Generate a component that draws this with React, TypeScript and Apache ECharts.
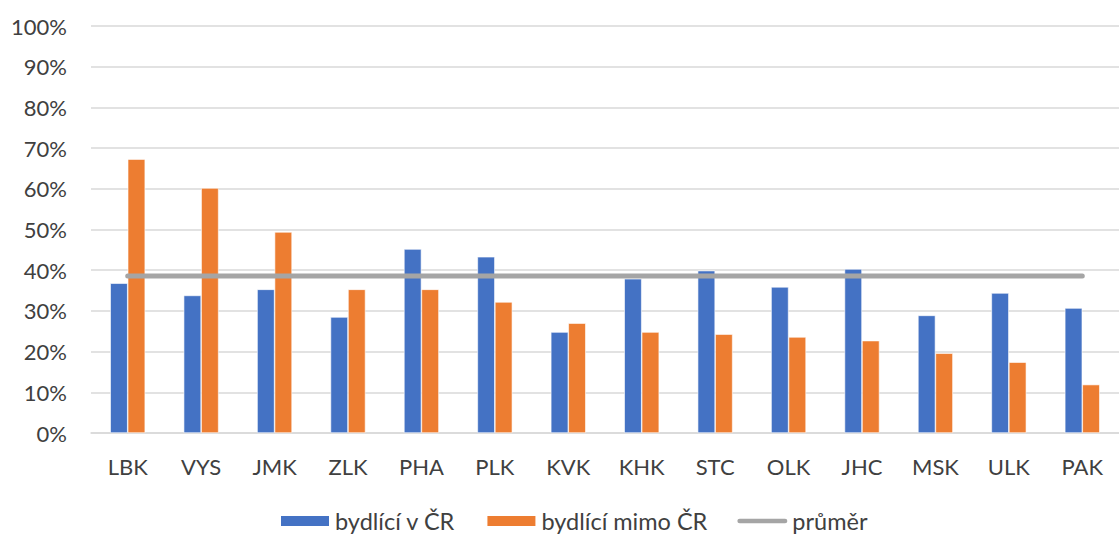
import React, { useEffect, useRef } from "react";
import * as echarts from "echarts";

const categories = ["LBK", "VYS", "JMK", "ZLK", "PHA", "PLK", "KVK", "KHK", "STC", "OLK", "JHC", "MSK", "ULK", "PAK"];
const livingInCR = [36.8, 33.8, 35.3, 28.5, 45.2, 43.3, 24.8, 37.9, 39.9, 35.9, 40.3, 28.9, 34.4, 30.7];
const livingOutsideCR = [67.3, 60.2, 49.4, 35.3, 35.3, 32.2, 27.0, 24.8, 24.3, 23.6, 22.7, 19.6, 17.4, 11.9];
const average = [38.6, 38.6, 38.6, 38.6, 38.6, 38.6, 38.6, 38.6, 38.6, 38.6, 38.6, 38.6, 38.6, 38.6];
const seriesNames = ["bydlící v ČR", "bydlící mimo ČR", "průměr"];

const FONT = "Lato, 'Noto Sans', sans-serif";

export default function App() {
  const ref = useRef<HTMLDivElement>(null);
  useEffect(() => {
    if (!ref.current) return;
    const chart = echarts.init(ref.current, null, { renderer: "svg" });
    chart.setOption({
      animation: false,
      backgroundColor: "#ffffff",
      textStyle: { fontFamily: FONT },
      grid: { left: 91, top: 26, width: 1043, height: 407, containLabel: false },
      legend: {
        left: 279,
        top: 509,
        padding: 0,
        itemWidth: 50,
        itemHeight: 12,
        itemGap: 30,
        textStyle: { fontFamily: FONT, fontSize: 23.5, color: "#404040", lineHeight: 24 },
        data: [
          { name: seriesNames[0], icon: "rect" },
          { name: seriesNames[1], icon: "rect" },
          {
            name: seriesNames[2],
            icon: "path://M2.5,0 H51.5 A2.5,2.5 0 0 1 51.5,5 H2.5 A2.5,2.5 0 0 1 2.5,0 Z",
            itemStyle: { color: "#A5A5A5" },
          },
        ],
      },
      xAxis: {
        type: "category",
        data: categories,
        boundaryGap: true,
        axisLine: { show: true, lineStyle: { color: "#D9D9D9", width: 1.5 } },
        axisTick: { show: false },
        axisLabel: { color: "#404040", fontSize: 22, fontFamily: FONT, margin: 22 },
      },
      yAxis: {
        type: "value",
        min: 0,
        max: 100,
        interval: 10,
        axisLine: { show: false },
        axisTick: { show: false },
        axisLabel: { formatter: "{value}%", color: "#404040", fontSize: 22, fontFamily: FONT, margin: 24 },
        splitLine: { lineStyle: { color: "#D9D9D9", width: 1.5 } },
      },
      series: [
        {
          name: seriesNames[0],
          type: "bar",
          data: livingInCR,
          barWidth: 17.5,
          barGap: "0%",
          itemStyle: { color: "#4472C4", borderColor: "#ffffff", borderWidth: 0.6 },
        },
        {
          name: seriesNames[1],
          type: "bar",
          data: livingOutsideCR,
          barWidth: 17.5,
          barGap: "0%",
          itemStyle: { color: "#ED7D31", borderColor: "#ffffff", borderWidth: 0.6 },
        },
        {
          name: seriesNames[2],
          type: "line",
          data: average,
          symbol: "none",
          showSymbol: false,
          lineStyle: { color: "#A5A5A5", width: 5, cap: "round" },
          itemStyle: { color: "#A5A5A5" },
          z: 5,
        },
      ],
    });
    return () => chart.dispose();
  }, []);
  return (
    <div
      ref={ref}
      style={{ position: "absolute", left: 0, top: 0, width: 1119, height: 534, overflow: "hidden" }}
    />
  );
}
